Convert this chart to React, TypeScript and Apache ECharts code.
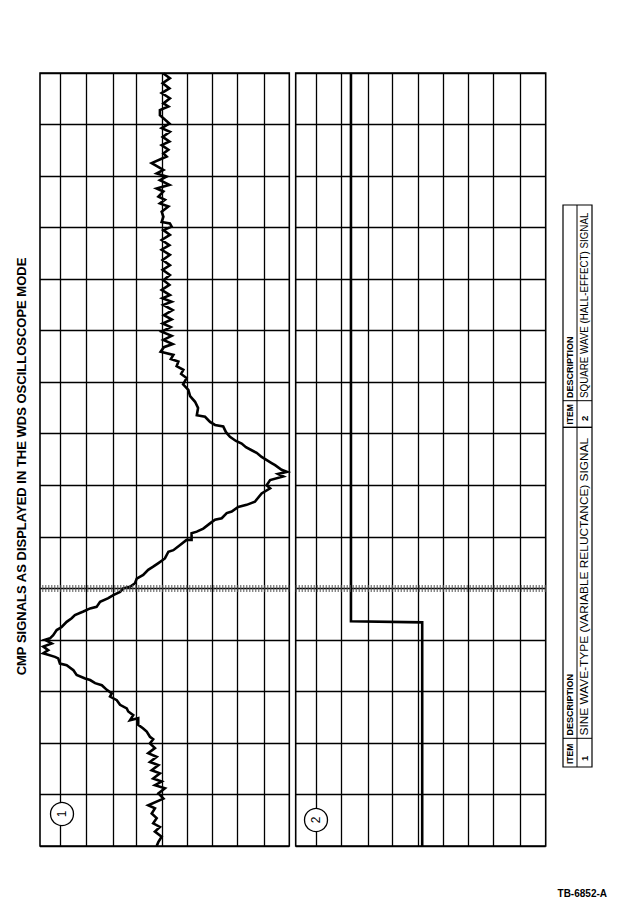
import React, { useEffect, useRef } from "react";
import * as echarts from "echarts";

const TITLE = "CMP SIGNALS AS DISPLAYED IN THE WDS OSCILLOSCOPE MODE";
const FIGURE_ID = "TB-6852-A";
const TABLE_HEADERS = ["ITEM", "DESCRIPTION"];
const TABLE_ITEMS = ["1", "2"];
const TABLE_DESCRIPTIONS = [
  "SINE WAVE-TYPE (VARIABLE RELUCTANCE) SIGNAL",
  "SQUARE WAVE (HALL-EFFECT) SIGNAL",
];
const TRACE_LABELS = ["1", "2"];

// Amplitude graticule lines (divisions) as drawn on the scope screen
const GRATICULE_AMPLITUDE = [4.18, 3.16, 2.085, 1.12, 0.085, -0.9, -1.885, -2.9, -4.005];

// Trace 1: sine wave-type CMP signal (time in divisions, amplitude in divisions)
const SINE_TIME = [
  -5.0, -4.92, -4.82, -4.72, -4.63, -4.56, -4.46, -4.37, -4.27, -4.21,
  -4.08, -3.98, -3.88, -3.82, -3.75, -3.69, -3.59, -3.53, -3.43, -3.37,
  -3.27, -3.2, -3.1, -3.01, -2.93, -2.88, -2.78, -2.72, -2.65, -2.52,
  -2.56, -2.46, -2.39, -2.33, -2.26, -2.17, -2.1, -2.04, -1.97, -1.88,
  -1.84, -1.78, -1.75, -1.68, -1.59, -1.49, -1.46, -1.36, -1.33, -1.26,
  -1.2, -1.13, -1.07, -1.0, -0.97, -0.91, -0.81, -0.75, -0.65, -0.58,
  -0.52, -0.45, -0.39, -0.36, -0.26, -0.19, -0.13, -0.07, 0.0, 0.03,
  0.1, 0.19, 0.26, 0.36, 0.42, 0.49, 0.58, 0.71, 0.74, 0.84,
  0.94, 0.94, 1.07, 1.1, 1.16, 1.26, 1.33, 1.36, 1.46, 1.49,
  1.58, 1.62, 1.68, 1.84, 1.94, 2.0, 2.1, 2.17, 2.22, 2.26,
  2.3, 2.39, 2.43, 2.55, 2.63, 2.68, 2.74, 2.81, 2.86, 2.94,
  3.03, 3.14, 3.17, 3.23, 3.33, 3.36, 3.5, 3.62, 3.73, 3.85,
  3.96, 4.08, 4.16, 4.24, 4.31, 4.4, 4.45, 4.53, 4.59, 4.68,
  4.74, 4.82, 4.9, 4.98, 5.07, 5.14, 5.22, 5.3, 5.4, 5.5,
  5.56, 5.63, 5.69, 5.79, 5.89, 5.98, 6.08, 6.18, 6.27, 6.37,
  6.47, 6.57, 6.66, 6.76, 6.86, 6.95, 7.02, 7.08, 7.11, 7.21,
  7.31, 7.41, 7.47, 7.54, 7.6, 7.7, 7.76, 7.83, 7.92, 7.99,
  8.05, 8.12, 8.25, 8.38, 8.44, 8.51, 8.6, 8.67, 8.76, 8.86,
  8.93, 9.02, 9.12, 9.18, 9.28, 9.35, 9.41, 9.51, 9.61, 9.7,
  9.8, 9.9, 9.99,
];
const SINE_AMPLITUDE = [
  0.32, 0.25, 0.12, 0.39, 0.19, 0.46, 0.32, 0.52, 0.39, 0.66,
  0.05, 0.25, -0.01, 0.39, 0.12, 0.46, 0.19, 0.52, 0.25, 0.59,
  0.32, 0.66, 0.39, 0.59, 0.46, 0.59, 0.72, 0.86, 1.06, 1.06,
  1.39, 1.26, 1.46, 1.52, 1.79, 1.92, 2.19, 2.12, 2.32, 2.52,
  2.79, 2.99, 3.19, 3.53, 3.66, 3.93, 4.2, 4.27, 4.4, 4.87,
  4.67, 4.87, 4.53, 4.8, 4.6, 4.47, 4.33, 4.13, 3.93, 3.73,
  3.6, 3.26, 2.99, 2.73, 2.59, 2.26, 2.06, 1.79, 1.66, 1.39,
  1.19, 1.12, 0.86, 0.66, 0.46, 0.25, -0.01, -0.15, -0.35, -0.62,
  -0.88, -1.08, -1.08, -1.29, -1.55, -1.82, -2.02, -2.29, -2.49, -2.69,
  -2.95, -3.29, -3.62, -3.89, -4.23, -4.09, -4.23, -4.76, -4.55, -4.91,
  -4.69, -4.43, -4.29, -3.89, -3.69, -3.49, -3.26, -3.09, -2.86, -2.62,
  -2.46, -2.35, -2.02, -1.82, -1.62, -1.29, -1.34, -1.22, -1.02, -0.95,
  -0.74, -0.88, -0.66, -0.75, -0.48, -0.55, -0.25, -0.35, 0.16, 0.03,
  -0.32, 0.05, -0.28, 0.12, -0.24, 0.08, -0.28, 0.03, -0.32, 0.05,
  -0.28, 0.09, -0.21, 0.12, -0.19, 0.05, -0.21, 0.08, -0.21, 0.08,
  -0.21, 0.12, -0.19, 0.12, -0.21, 0.05, -0.28, -0.21, 0.12, 0.05,
  0.12, -0.15, 0.19, -0.01, 0.25, 0.05, 0.32, -0.19, 0.19, -0.08,
  0.32, 0.05, 0.52, -0.08, 0.05, -0.15, 0.12, -0.19, 0.08, -0.21,
  0.12, -0.19, 0.05, 0.19, 0.19, -0.15, 0.05, -0.21, 0.12, -0.19,
  0.08, -0.21, 0.05,
];

// Trace 2: square wave (Hall-effect) signal
const SQUARE_TIME = [-5.0, -0.66, -0.64, 10.0];
const SQUARE_AMPLITUDE = [-0.06, -0.06, 2.79, 2.79];

// Trigger position (hashed graticule line)
const TRIGGER_TIME = 0;

const FONT = "'Liberation Sans', Arial, Helvetica, sans-serif";

function zip(a: number[], t: number[]) {
  return t.map((tv, i) => [a[i], tv]);
}

export default function App() {
  const ref = useRef<HTMLDivElement>(null);

  useEffect(() => {
    if (!ref.current) return;
    const chart = echarts.init(ref.current, null, { renderer: "svg" });

    const axisX = (gridIndex: number) => ({
      gridIndex,
      type: "value",
      min: -5,
      max: 5,
      interval: 1,
      inverse: true,
      axisLine: { show: false },
      axisTick: { show: false },
      axisLabel: { show: false },
      splitLine: { show: false },
    });
    const axisY = (gridIndex: number) => ({
      gridIndex,
      type: "value",
      min: -5,
      max: 10,
      interval: 1,
      axisLine: { show: false },
      axisTick: { show: false },
      axisLabel: { show: false },
      splitLine: { show: true, lineStyle: { color: "#000", width: 1.3 } },
    });

    const traceLine = {
      color: "#000",
      width: 2.6,
      join: "miter",
    };

    const graticule = (idx: number) => ({
      type: "line",
      xAxisIndex: idx,
      yAxisIndex: idx,
      data: [],
      z: 1,
      silent: true,
      markLine: {
        silent: true,
        symbol: ["none", "none"],
        label: { show: false },
        lineStyle: { color: "#000", width: 1.3, type: "solid" },
        data: [
          ...GRATICULE_AMPLITUDE.map((v) => ({ xAxis: v })),
          { yAxis: TRIGGER_TIME, lineStyle: { color: "#555", width: 7, type: [1, 2] } },
        ],
      },
    });

    const rotText = (
      text: string,
      x: number,
      y: number,
      size: number,
      weight: string,
      align: string,
      stretch = 1
    ) => ({
      type: "text",
      x,
      y,
      rotation: Math.PI / 2,
      scaleX: stretch,
      z: 101,
      style: {
        text,
        fill: "#000",
        fontSize: size,
        fontWeight: weight,
        fontFamily: FONT,
        align,
        textAlign: align,
        verticalAlign: "middle",
        textVerticalAlign: "middle",
      },
    });

    const hline = (x1: number, x2: number, y: number, w = 1) => ({
      type: "line",
      z: 100,
      shape: { x1, y1: y, x2, y2: y },
      style: { stroke: "#000", lineWidth: w },
    });

    const circleLabel = (cx: number, cy: number, label: string) => [
      {
        type: "circle",
        z: 100,
        shape: { cx, cy, r: 11.5 },
        style: { fill: "#fff", stroke: "#000", lineWidth: 1.3 },
      },
      rotText(label, cx, cy, 12, "normal", "center"),
    ];

    chart.setOption({
      animation: false,
      backgroundColor: "#fff",
      grid: [
        { left: 40, top: 73, width: 249.3, height: 773, show: true, borderColor: "#000", borderWidth: 1.6, backgroundColor: "transparent" },
        { left: 295.7, top: 73, width: 250, height: 773, show: true, borderColor: "#000", borderWidth: 1.6, backgroundColor: "transparent" },
      ],
      xAxis: [axisX(0), axisX(1)],
      yAxis: [axisY(0), axisY(1)],
      series: [
        graticule(0),
        graticule(1),
        {
          type: "line",
          name: TABLE_DESCRIPTIONS[0],
          xAxisIndex: 0,
          yAxisIndex: 0,
          data: zip(SINE_AMPLITUDE, SINE_TIME),
          symbol: "none",
          showSymbol: false,
          lineStyle: traceLine,
          z: 3,
        },
        {
          type: "line",
          name: TABLE_DESCRIPTIONS[1],
          xAxisIndex: 1,
          yAxisIndex: 1,
          data: zip(SQUARE_AMPLITUDE, SQUARE_TIME),
          symbol: "none",
          showSymbol: false,
          lineStyle: traceLine,
          z: 3,
        },
      ],
      graphic: [
        rotText(TITLE, 21.5, 466.5, 13, "bold", "center"),
        ...circleLabel(62, 814, TRACE_LABELS[0]),
        ...circleLabel(316, 820, TRACE_LABELS[1]),
        // table frame
        {
          type: "rect",
          z: 100,
          shape: { x: 563, y: 205, width: 29, height: 562 },
          style: { fill: "#fff", stroke: "#000", lineWidth: 1.2 },
        },
        {
          type: "line",
          z: 100,
          shape: { x1: 577, y1: 205, x2: 577, y2: 767 },
          style: { stroke: "#000", lineWidth: 1 },
        },
        hline(563, 592, 738.3),
        hline(563, 592, 427.3, 1.4),
        hline(563, 592, 400.7),
        rotText(TABLE_HEADERS[0], 570, 764, 8.5, "bold", "left"),
        rotText(TABLE_HEADERS[1], 570, 735.5, 9, "bold", "left"),
        rotText(TABLE_ITEMS[0], 584.5, 761, 9.5, "bold", "left"),
        rotText(TABLE_DESCRIPTIONS[0], 584.5, 735.5, 11, "normal", "left", 1.08),
        rotText(TABLE_HEADERS[0], 570, 424.5, 8.5, "bold", "left"),
        rotText(TABLE_HEADERS[1], 570, 398, 9, "bold", "left"),
        rotText(TABLE_ITEMS[1], 584.5, 421, 9.5, "bold", "left"),
        rotText(TABLE_DESCRIPTIONS[1], 584.5, 398, 11, "normal", "left", 0.89),
        {
          type: "text",
          x: 607,
          y: 893.5,
          z: 101,
          style: {
            text: FIGURE_ID,
            fill: "#000",
            fontSize: 10,
            fontWeight: "bold",
            fontFamily: FONT,
            align: "right",
            textAlign: "right",
            verticalAlign: "middle",
            textVerticalAlign: "middle",
          },
        },
      ],
    });

    return () => chart.dispose();
  }, []);

  return (
    <div
      ref={ref}
      style={{ position: "absolute", left: 0, top: 0, width: 620, height: 920 }}
    />
  );
}
